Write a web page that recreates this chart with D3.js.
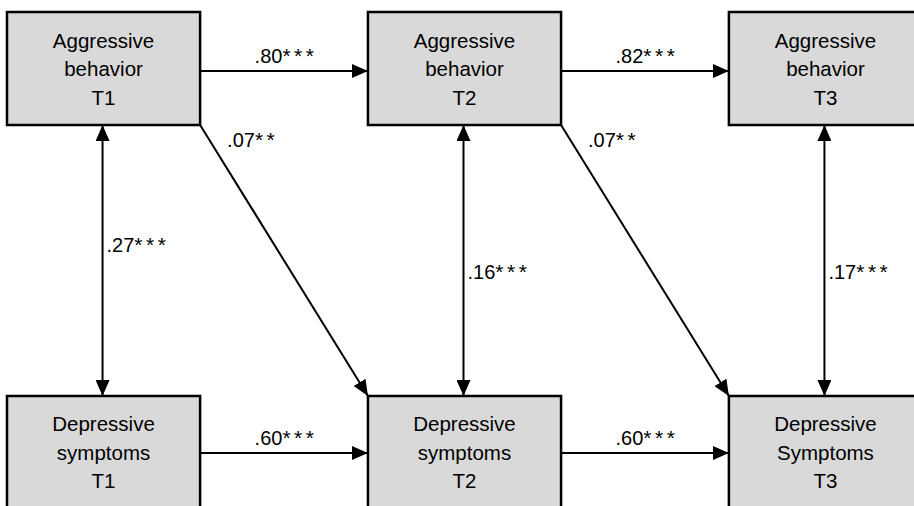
<!DOCTYPE html>
<html>
<head>
<meta charset="utf-8">
<script src="https://cdn.jsdelivr.net/npm/d3@7"></script>
<style>
  html, body { margin: 0; padding: 0; background: #ffffff; }
  svg { display: block; }
  text { font-family: "Liberation Sans", Arial, sans-serif; fill: #000; }
</style>
</head>
<body>
<svg id="chart" width="914" height="506"></svg>
<script>
// ---- data ----
const times = ["T1", "T2", "T3"];
const constructs = ["aggr", "depr"];
const aggressiveLabels = [
  ["Aggressive", "behavior", "T1"],
  ["Aggressive", "behavior", "T2"],
  ["Aggressive", "behavior", "T3"]
];
const depressiveLabels = [
  ["Depressive", "symptoms", "T1"],
  ["Depressive", "symptoms", "T2"],
  ["Depressive", "Symptoms", "T3"]
];
const aggressiveStability = [".80***", ".82***"];   // T1->T2, T2->T3
const depressiveStability = [".60***", ".60***"];   // T1->T2, T2->T3
const crossLagged = [".07**", ".07**"];             // Aggr T(k) -> Depr T(k+1)
const correlations = [".27***", ".16***", ".17***"]; // within-time

// ---- layout scales ----
const svg = d3.select("#chart");
const x = d3.scaleBand().domain(times).range([7, 922]).paddingInner(0.465).paddingOuter(0);
const y = d3.scaleBand().domain(constructs).range([12, 509]).paddingInner(0.7057).paddingOuter(0);
const bw = x.bandwidth(), bh = y.bandwidth();

const defs = svg.append("defs");
function marker(id, orient) {
  defs.append("marker")
    .attr("id", id)
    .attr("viewBox", "0 0 16 14")
    .attr("refX", 16).attr("refY", 7)
    .attr("markerWidth", 16).attr("markerHeight", 14)
    .attr("markerUnits", "userSpaceOnUse")
    .attr("orient", orient)
    .append("path").attr("d", "M0,0 L16,7 L0,14 Z").attr("fill", "#000");
}
marker("arrowEnd", "auto");
marker("arrowStart", "auto-start-reverse");

// ---- boxes ----
const nodes = [];
times.forEach((t, i) => {
  nodes.push({ t, c: "aggr", lines: aggressiveLabels[i] });
  nodes.push({ t, c: "depr", lines: depressiveLabels[i] });
});
const g = svg.append("g");
const nodeG = g.selectAll("g.node").data(nodes).join("g").attr("class", "node");
nodeG.append("rect")
  .attr("x", d => x(d.t)).attr("y", d => y(d.c))
  .attr("width", bw).attr("height", bh)
  .attr("fill", "#d9d9d9").attr("stroke", "#000").attr("stroke-width", 2.5);
nodeG.each(function(d) {
  const cx = x(d.t) + bw / 2;
  const cy = y(d.c) + bh / 2;
  d3.select(this).selectAll("text").data(d.lines).join("text")
    .attr("x", cx)
    .attr("y", (l, k) => cy + 7.5 + (k - 1) * 28.5)
    .attr("text-anchor", "middle")
    .attr("font-size", 20.5)
    .text(l => l);
});

// ---- arrows ----
const arrows = svg.append("g").attr("stroke", "#000").attr("stroke-width", 2).attr("fill", "none");
const labels = svg.append("g");

function label(txt, px, py, anchor) {
  const m = txt.match(/^([^*]*)(\**)$/);
  const t = labels.append("text").attr("x", px).attr("y", py)
    .attr("text-anchor", anchor)
    .attr("font-size", 20);
  t.append("tspan").text(m[1]);
  t.append("tspan").attr("letter-spacing", 3.5).attr("font-size", 21).text(m[2]);
}

// stability paths
[["aggr", aggressiveStability, 71], ["depr", depressiveStability, 453]].forEach(([c, vals, ay]) => {
  vals.forEach((v, i) => {
    const x1 = x(times[i]) + bw, x2 = x(times[i + 1]);
    arrows.append("line").attr("x1", x1).attr("y1", ay).attr("x2", x2).attr("y2", ay)
      .attr("marker-end", "url(#arrowEnd)");
    label(v, (x1 + x2) / 2 + 2, ay - 8, "middle");
  });
});

// cross-lagged paths
crossLagged.forEach((v, i) => {
  const x1 = x(times[i]) + bw, y1 = y("aggr") + bh;
  const x2 = x(times[i + 1]), y2 = y("depr");
  arrows.append("line").attr("x1", x1).attr("y1", y1).attr("x2", x2).attr("y2", y2)
    .attr("marker-end", "url(#arrowEnd)");
  label(v, x1 + 27, y1 + 22, "start");
});

// correlations
const corrBaseline = [252, 279, 279];
correlations.forEach((v, i) => {
  const cx = x(times[i]) + bw / 2 - 1;
  arrows.append("line").attr("x1", cx).attr("y1", y("aggr") + bh).attr("x2", cx).attr("y2", y("depr"))
    .attr("marker-start", "url(#arrowStart)").attr("marker-end", "url(#arrowEnd)");
  label(v, cx + 4, corrBaseline[i], "start");
});
</script>
</body>
</html>
